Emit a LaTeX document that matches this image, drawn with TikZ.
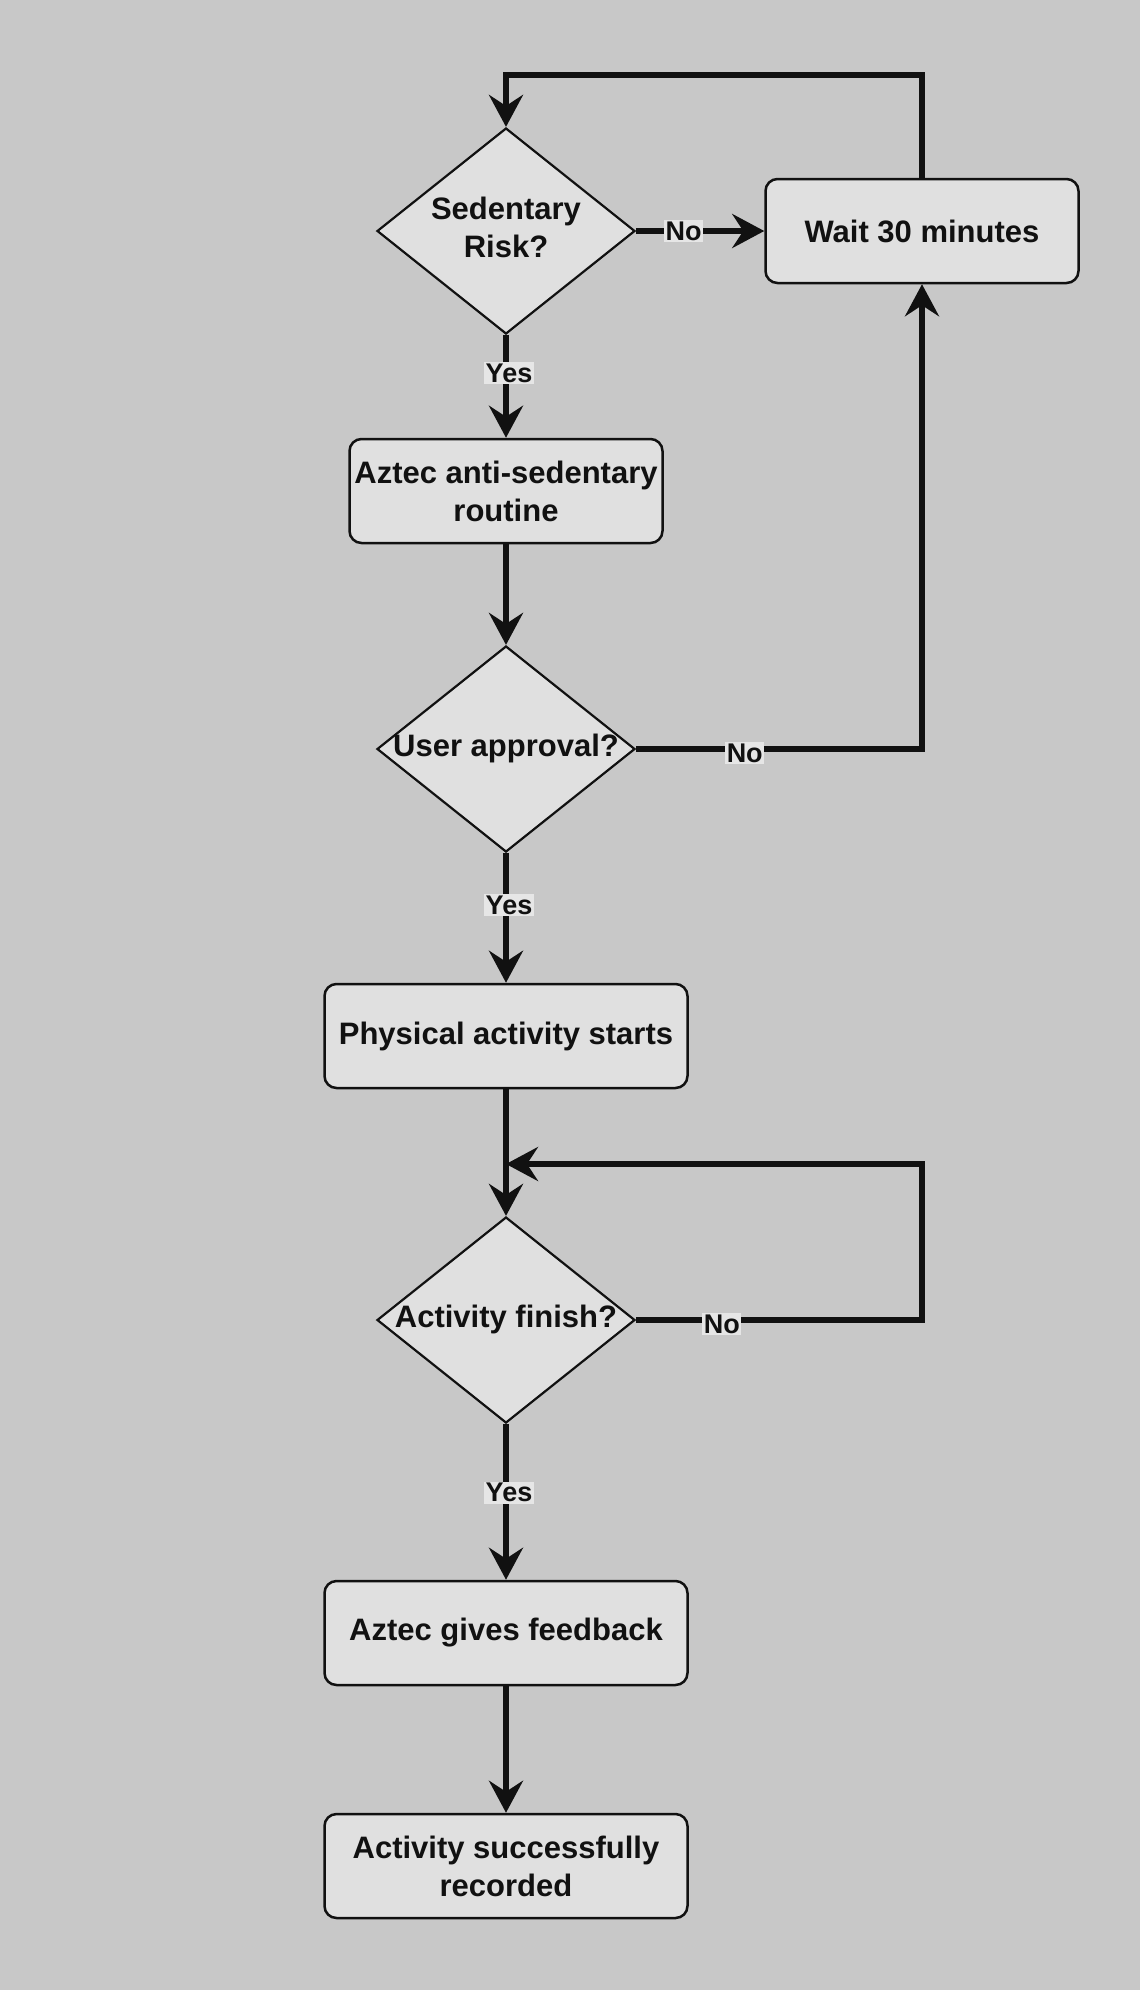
\documentclass[tikz,border=0pt]{standalone}
\usepackage{fontspec}
\setmainfont{Liberation Sans}
\usetikzlibrary{shapes.geometric,arrows.meta}
\definecolor{bg}{HTML}{C8C8C8}
\definecolor{nodefill}{HTML}{E0E0E0}
\definecolor{lblfill}{HTML}{E6E6E6}
\definecolor{ink}{HTML}{111111}
\newcommand{\dtext}[1]{\makebox[0pt]{\begin{tabular}{@{}c@{}}#1\end{tabular}}}
\begin{document}
\begin{tikzpicture}[x=1pt,y=-1pt,
  box/.style={draw=ink, line width=2.5pt, fill=nodefill, rounded corners=12pt,
    minimum height=104pt, align=center, inner sep=0pt,
    font=\bfseries\fontsize{31}{38}\selectfont, text=ink},
  dec/.style={draw=ink, line width=2.2pt, fill=nodefill, shape=diamond,
    minimum width=258pt, minimum height=206pt, inner sep=0pt,
    font=\bfseries\fontsize{31}{38}\selectfont, text=ink},
  conn/.style={draw=ink, line width=5.5pt, -{Stealth[length=32pt,width=34pt,inset=11pt]}},
  lbl/.style={fill=lblfill, inner sep=1.5pt, text=ink,
    font=\bfseries\fontsize{27}{32}\selectfont},
  ylbl/.style={lbl, xshift=3pt},
  nlbl/.style={lbl, yshift=-4pt}
]
\useasboundingbox[fill=bg] (0,0) rectangle (1140,1990);

\node[dec] (d1) at (506,231) {\dtext{Sedentary\\Risk?}};
\node[box, minimum width=313pt] (wait) at (922,231) {Wait 30 minutes};
\node[box, minimum width=313pt] (b2) at (506,491) {Aztec anti-sedentary\\routine};
\node[dec] (d2) at (506,749) {\dtext{User approval?}};
\node[box, minimum width=363pt] (b3) at (506,1036) {Physical activity starts};
\node[dec] (d3) at (506,1320) {\dtext{Activity finish?}};
\node[box, minimum width=363pt] (b4) at (506,1633) {Aztec gives feedback};
\node[box, minimum width=363pt] (b5) at (506,1866) {Activity successfully\\recorded};

\coordinate (topc) at (922,75);
\coordinate (loopc) at (922,1164);
\coordinate (join) at (506,1164);

\draw[conn] (d1.south) -- node[ylbl, pos=0.37] {Yes} (b2.north);
\draw[conn] (d1.east) -- node[lbl, pos=0.37] {No} (wait.west);
\draw[conn] (wait.north) -- (topc) -| (d1.north);
\draw[conn] (b2.south) -- (d2.north);
\draw[conn] (d2.east) -| node[nlbl, pos=0.19] {No} (wait.south);
\draw[conn] (d2.south) -- node[ylbl, pos=0.40] {Yes} (b3.north);
\draw[conn] (b3.south) -- (d3.north);
\draw[conn] (d3.east) -| node[nlbl, pos=0.15] {No} (loopc) -- (join);
\draw[conn] (d3.south) -- node[ylbl, pos=0.44] {Yes} (b4.north);
\draw[conn] (b4.south) -- (b5.north);
\end{tikzpicture}
\end{document}
